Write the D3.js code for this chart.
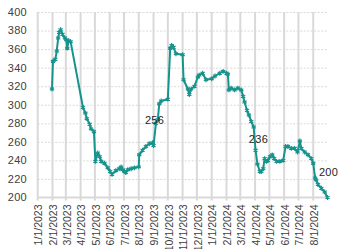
<!DOCTYPE html>
<html>
<head>
<meta charset="utf-8">
<script src="https://cdn.jsdelivr.net/npm/d3@7"></script>
<style>
  body { margin: 0; background: #fff; }
  svg { display: block; font-family: "Liberation Sans", Arial, sans-serif; }
</style>
</head>
<body>
<div id="chart"></div>
<script>
// daily-ish price readings
var dates = [
  "2023-01-31", "2023-02-02", "2023-02-07", "2023-02-10", "2023-02-13", "2023-02-15",
  "2023-02-18", "2023-02-22", "2023-02-27", "2023-03-02", "2023-03-04", "2023-03-07",
  "2023-03-11", "2023-04-06", "2023-04-11", "2023-04-14", "2023-04-20", "2023-04-23",
  "2023-04-29", "2023-05-02", "2023-05-07", "2023-05-11", "2023-05-14", "2023-05-21",
  "2023-05-28", "2023-06-02", "2023-06-06", "2023-06-14", "2023-06-21", "2023-06-25",
  "2023-06-28", "2023-07-02", "2023-07-05", "2023-07-09", "2023-07-16", "2023-07-23",
  "2023-08-01", "2023-08-02", "2023-08-09", "2023-08-16", "2023-08-23", "2023-08-30",
  "2023-09-01", "2023-09-06", "2023-09-10", "2023-09-13", "2023-09-17", "2023-10-01",
  "2023-10-06", "2023-10-09", "2023-10-13", "2023-10-18", "2023-11-01", "2023-11-03",
  "2023-11-12", "2023-11-15", "2023-11-19", "2023-11-26", "2023-12-03", "2023-12-06",
  "2023-12-13", "2023-12-20", "2024-01-01", "2024-01-08", "2024-01-18", "2024-01-25",
  "2024-02-01", "2024-02-04", "2024-02-06", "2024-02-11", "2024-02-18", "2024-02-25",
  "2024-03-03", "2024-03-07", "2024-03-10", "2024-03-15", "2024-03-19", "2024-03-24",
  "2024-03-29", "2024-04-02", "2024-04-06", "2024-04-11", "2024-04-14", "2024-04-18",
  "2024-04-21", "2024-04-25", "2024-04-28", "2024-05-02", "2024-05-07", "2024-05-11",
  "2024-05-16", "2024-05-23", "2024-05-30", "2024-06-04", "2024-06-09", "2024-06-16",
  "2024-06-23", "2024-06-29", "2024-07-04", "2024-07-07", "2024-07-14", "2024-07-21",
  "2024-07-28", "2024-08-01", "2024-08-05", "2024-08-07", "2024-08-11", "2024-08-18",
  "2024-08-25", "2024-08-31"
];
var prices = [
  317, 347, 349, 358, 372, 378,
  381, 376, 372, 370, 361, 369,
  368, 297, 291, 285, 279, 274,
  271, 239, 248, 244, 239, 237,
  232, 228, 225, 229, 231, 233,
  230, 228, 227, 230, 231, 232,
  233, 246, 251, 255, 258, 259,
  256, 280, 284, 301, 304, 306,
  361, 364, 362, 355, 354, 327,
  317, 311, 317, 320, 330, 332,
  334, 327, 328, 331, 334, 336,
  334, 333, 316, 318, 316, 318,
  316, 309, 303, 294, 289, 282,
  276, 251, 236, 228, 228, 231,
  242, 239, 240, 244, 246, 242,
  239, 239, 240, 255, 255, 253,
  253, 249, 261, 253, 249, 246,
  242, 237, 221, 219, 214, 210,
  206, 200
];

// values shown as data labels
var calloutDates = ["2023-09-01", "2024-04-06", "2024-08-31"];
var calloutValues = [256, 236, 200];

var yTicks = [200, 220, 240, 260, 280, 300, 320, 340, 360, 380, 400];
var xStart = "2023-01-01", xEnd = "2024-09-01";

var W = 341, H = 249;
var plotLeft = 37.7, plotRight = 328, plotTop = 12, plotBottom = 197.5;
var teal = "#17938e";

var parse = d3.utcParse("%Y-%m-%d");
var fmt = d3.utcFormat("%-m/%-d/%Y");

var data = dates.map(function (d, i) { return { date: parse(d), value: prices[i] }; });

var x = d3.scaleUtc().domain([parse(xStart), parse(xEnd)]).range([plotLeft, plotRight]);
var y = d3.scaleLinear().domain([200, 400]).range([plotBottom, plotTop]);

var svg = d3.select("#chart").append("svg")
    .attr("width", W)
    .attr("height", H);

// horizontal dashed gridlines
svg.append("g")
    .attr("transform", "translate(" + plotLeft + ",0)")
    .call(d3.axisLeft(y).tickValues(yTicks.slice(1)).tickSize(-(plotRight - plotLeft)).tickFormat(""))
    .call(function (g) { g.select(".domain").remove(); })
    .selectAll("line")
    .attr("stroke", "#d9d9d9")
    .attr("stroke-dasharray", "2,1.5");

// month gridlines (no line at the end of the axis)
var months = d3.utcMonth.range(parse(xStart), parse(xEnd));
svg.append("g")
    .selectAll("line")
    .data(months)
    .join("line")
    .attr("x1", function (d) { return x(d); })
    .attr("x2", function (d) { return x(d); })
    .attr("y1", plotTop)
    .attr("y2", plotBottom + 3)
    .attr("stroke", "#d9d9d9")
    .attr("stroke-width", 2);

// base line
svg.append("line")
    .attr("x1", plotLeft).attr("x2", plotRight)
    .attr("y1", y(200)).attr("y2", y(200))
    .attr("stroke", "#d9d9d9")
    .attr("stroke-width", 2);

// y labels
svg.append("g")
    .selectAll("text")
    .data(yTicks)
    .join("text")
    .attr("x", 27)
    .attr("y", function (d) { return y(d); })
    .attr("dy", "0.35em")
    .attr("text-anchor", "end")
    .attr("fill", "#404040")
    .style("font-size", "11px")
    .style("letter-spacing", "0.3px")
    .text(function (d) { return d; });

// x labels, rotated
svg.append("g")
    .selectAll("text")
    .data(months)
    .join("text")
    .attr("transform", function (d) { return "translate(" + (x(d) + 1) + "," + (plotBottom + 7) + ") rotate(-90)"; })
    .attr("dy", "0.35em")
    .attr("text-anchor", "end")
    .attr("fill", "#404040")
    .style("font-size", "10.5px")
    .text(function (d) { return fmt(d); });

// the line
var line = d3.line()
    .x(function (d) { return x(d.date); })
    .y(function (d) { return y(d.value); });

svg.append("path")
    .datum(data)
    .attr("d", line)
    .attr("fill", "none")
    .attr("stroke", teal)
    .attr("stroke-width", 2)
    .attr("stroke-linejoin", "round");

// star markers
svg.append("g")
    .selectAll("path")
    .data(data)
    .join("path")
    .attr("transform", function (d) { return "translate(" + x(d.date) + "," + y(d.value) + ")"; })
    .attr("d", d3.symbol(d3.symbolAsterisk, 16))
    .attr("fill", "none")
    .attr("stroke", teal)
    .attr("stroke-width", 1.2);

// data labels
svg.append("g")
    .selectAll("text")
    .data(calloutDates)
    .join("text")
    .attr("x", function (d) { return x(parse(d)) + 1; })
    .attr("y", function (d, i) { return y(calloutValues[i]) - 25; })
    .attr("dy", "0.35em")
    .attr("text-anchor", "middle")
    .attr("fill", "#262626")
    .style("font-size", "11px")
    .style("letter-spacing", "0.3px")
    .text(function (d, i) { return calloutValues[i]; });
</script>
</body>
</html>
